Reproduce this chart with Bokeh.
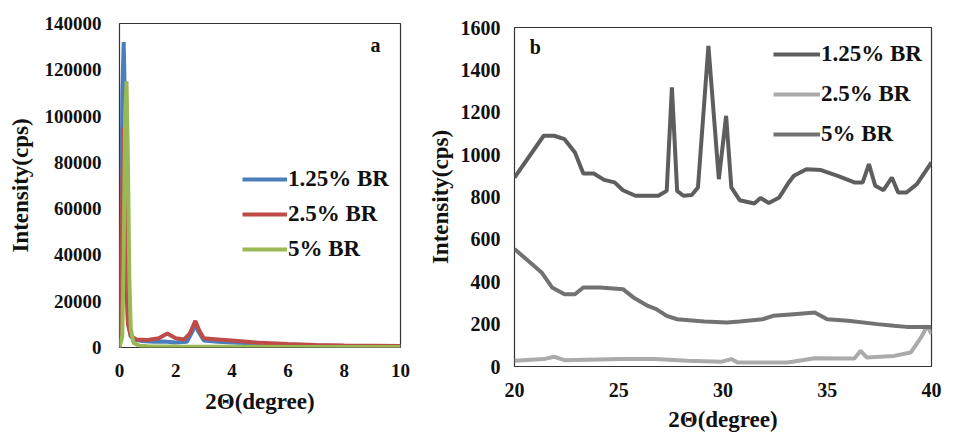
from bokeh.plotting import figure
from bokeh.layouts import row
from bokeh.models import Legend, LegendItem, FixedTicker, BasicTickFormatter, Label
from bokeh.embed import file_html
from bokeh.resources import INLINE

# ---------------- Panel a data ----------------
a_x_blue = [0, 0.05, 0.1, 0.15, 0.2, 0.25, 0.3, 0.4, 0.5, 0.8, 1.2, 1.6, 1.8, 2.0, 2.4, 2.6, 2.7, 2.8, 3.0, 3.5, 4.0, 5.0, 6.0, 7.0, 8.0, 9.0, 10.0]
a_y_blue = [0, 30000, 110000, 132000, 100000, 40000, 12000, 5000, 3500, 2800, 2500, 2600, 2400, 2200, 2500, 7000, 10000, 7000, 3000, 2500, 2200, 1600, 1200, 900, 700, 600, 500]

a_x_red = [0, 0.05, 0.1, 0.15, 0.2, 0.25, 0.3, 0.4, 0.6, 1.0, 1.4, 1.7, 2.0, 2.3, 2.5, 2.7, 2.85, 3.0, 3.5, 4.0, 5.0, 6.0, 7.0, 8.0, 9.0, 10.0]
a_y_red = [1000, 20000, 70000, 95000, 60000, 25000, 10000, 5000, 3500, 3200, 4000, 6000, 4000, 3500, 6000, 11500, 7000, 4000, 3500, 3000, 2000, 1500, 1100, 900, 800, 700]

a_x_green = [0, 0.1, 0.15, 0.2, 0.25, 0.3, 0.35, 0.4, 0.5, 0.7, 1.0, 2.0, 4.0, 6.0, 8.0, 10.0]
a_y_green = [0, 5000, 40000, 100000, 115000, 80000, 30000, 8000, 2000, 800, 500, 400, 300, 250, 200, 200]

a_xticks = [0, 2, 4, 6, 8, 10]
a_yticks = [0, 20000, 40000, 60000, 80000, 100000, 120000, 140000]

# ---------------- Panel b data ----------------
b_x_125 = [20, 21.4, 21.9, 22.4, 22.9, 23.3, 23.8, 24.3, 24.8, 25.2, 25.8, 26.9, 27.3, 27.55, 27.8, 28.1, 28.5, 28.8, 29.3, 29.8, 30.15, 30.4, 30.8, 31.5, 31.8, 32.2, 32.7, 33.1, 33.4, 34.0, 34.7, 35.5, 36.3, 36.7, 37.0, 37.3, 37.7, 38.1, 38.4, 38.8, 39.3, 40]
b_y_125 = [892, 1089, 1089, 1073, 1010, 911, 911, 881, 869, 832, 806, 806, 829, 1317, 829, 806, 809, 845, 1513, 884, 1183, 845, 785, 769, 795, 772, 798, 861, 900, 931, 927, 900, 869, 869, 955, 853, 832, 892, 821, 821, 861, 963]

b_x_25 = [20, 21.4, 21.9, 22.4, 25.1, 26.7, 28.3, 29.9, 30.4, 30.7, 33.1, 34.4, 36.3, 36.6, 36.9, 38.2, 39.0, 39.5, 39.8, 40]
b_y_25 = [27, 35, 46, 30, 35, 35, 27, 22, 35, 19, 19, 39, 38, 74, 42, 50, 66, 137, 192, 153]

b_x_5 = [20, 20.75, 21.3, 21.8, 22.4, 22.9, 23.3, 24.1, 25.2, 25.7, 26.4, 26.8, 27.3, 27.8, 29.1, 30.2, 30.8, 31.9, 32.4, 33.4, 34.4, 35.0, 36.0, 37.4, 38.2, 38.8, 40]
b_y_5 = [554, 491, 444, 373, 341, 341, 373, 373, 365, 326, 286, 271, 239, 223, 212, 208, 212, 223, 239, 247, 255, 223, 216, 200, 192, 187, 187]

b_xticks = [20, 25, 30, 35, 40]
b_yticks = [0, 200, 400, 600, 800, 1000, 1200, 1400, 1600]

series_labels = ["1.25% BR", "2.5% BR", "5% BR"]

FONT = "Liberation Serif"


def style(p, tick_size, label_standoff_y, label_standoff_x, ylab_standoff, xlab_standoff):
    p.outline_line_color = "#333333"
    p.outline_line_width = 1.2
    p.xgrid.visible = False
    p.ygrid.visible = False
    for ax in (p.xaxis, p.yaxis):
        ax.axis_line_color = None
        ax.major_tick_line_color = None
        ax.minor_tick_line_color = None
        ax.major_tick_out = 0
        ax.major_tick_in = 0
        ax.minor_tick_out = 0
        ax.minor_tick_in = 0
        ax.major_label_text_font = FONT
        ax.major_label_text_font_style = "bold"
        ax.major_label_text_font_size = tick_size
        ax.major_label_text_color = "#111111"
        ax.axis_label_text_font = FONT
        ax.axis_label_text_font_style = "bold"
        ax.axis_label_text_font_size = "23px"
        ax.axis_label_text_color = "#111111"
    p.yaxis.major_label_standoff = label_standoff_y
    p.xaxis.major_label_standoff = label_standoff_x
    p.yaxis.axis_label_standoff = ylab_standoff
    p.xaxis.axis_label_standoff = xlab_standoff
    p.yaxis.formatter = BasicTickFormatter(use_scientific=False)


# ---------------- Panel a ----------------
pa = figure(width=420, height=435, x_range=(0, 10), y_range=(0, 140000),
            output_backend="svg", toolbar_location=None, frame_align=False,
            min_border_left=119, min_border_right=20, min_border_top=23, min_border_bottom=88)
pa.background_fill_color = "white"
pa.border_fill_color = "white"
style(pa, "19px", 18, 16, 9, 9)
pa.xaxis.ticker = FixedTicker(ticks=a_xticks)
pa.yaxis.ticker = FixedTicker(ticks=a_yticks)
pa.xaxis.axis_label = "2Θ(degree)"
pa.yaxis.axis_label = "Intensity(cps)"

rb = pa.line(a_x_blue, a_y_blue, line_color="#4a7ebb", line_width=4)
rr = pa.line(a_x_red, a_y_red, line_color="#be4b48", line_width=4)
rg = pa.line(a_x_green, a_y_green, line_color="#98b954", line_width=4)

leg_a = Legend(items=[LegendItem(label=series_labels[0], renderers=[rb]),
                      LegendItem(label=series_labels[1], renderers=[rr]),
                      LegendItem(label=series_labels[2], renderers=[rg])],
               location=(123, 82), orientation="vertical")
leg_a.border_line_color = None
leg_a.background_fill_alpha = 0
leg_a.label_text_font = FONT
leg_a.label_text_font_style = "bold"
leg_a.label_text_font_size = "23px"
leg_a.label_text_color = "#111111"
leg_a.glyph_width = 45
leg_a.glyph_height = 32
leg_a.label_height = 32
leg_a.spacing = 3
leg_a.padding = 0
leg_a.margin = 0
leg_a.label_standoff = 1
pa.add_layout(leg_a)

pa.add_layout(Label(x=9.11, y=130500, text="a", text_font=FONT, text_font_style="bold",
                    text_font_size="20px", text_align="center", text_baseline="middle",
                    text_color="#111111"))

# ---------------- Panel b ----------------
pb = figure(width=540, height=435, x_range=(20, 40), y_range=(0, 1600),
            output_backend="svg", toolbar_location=None, frame_align=False,
            min_border_left=94, min_border_right=29, min_border_top=27, min_border_bottom=69)
pb.background_fill_color = "white"
pb.border_fill_color = "white"
style(pb, "20px", 14, 16, 5, 7)
pb.xaxis.ticker = FixedTicker(ticks=b_xticks)
pb.yaxis.ticker = FixedTicker(ticks=b_yticks)
pb.xaxis.axis_label = "2Θ(degree)"
pb.yaxis.axis_label = "Intensity(cps)"

r1 = pb.line(b_x_125, b_y_125, line_color="#5e5e5e", line_width=4)
r2 = pb.line(b_x_25, b_y_25, line_color="#ababab", line_width=4)
r3 = pb.line(b_x_5, b_y_5, line_color="#727272", line_width=4)

leg_b = Legend(items=[LegendItem(label=series_labels[0], renderers=[r1]),
                      LegendItem(label=series_labels[1], renderers=[r2]),
                      LegendItem(label=series_labels[2], renderers=[r3])],
               location=(259, 214), orientation="vertical")
leg_b.border_line_color = None
leg_b.background_fill_alpha = 0
leg_b.label_text_font = FONT
leg_b.label_text_font_style = "bold"
leg_b.label_text_font_size = "23px"
leg_b.label_text_color = "#111111"
leg_b.glyph_width = 47
leg_b.glyph_height = 36
leg_b.label_height = 36
leg_b.spacing = 4
leg_b.padding = 0
leg_b.margin = 0
leg_b.label_standoff = 1
pb.add_layout(leg_b)

pb.add_layout(Label(x=21.0, y=1506, text="b", text_font=FONT, text_font_style="bold",
                    text_font_size="20px", text_align="center", text_baseline="middle",
                    text_color="#111111"))

layout = row(pa, pb)
open("out.html", "w").write(file_html(layout, INLINE))
